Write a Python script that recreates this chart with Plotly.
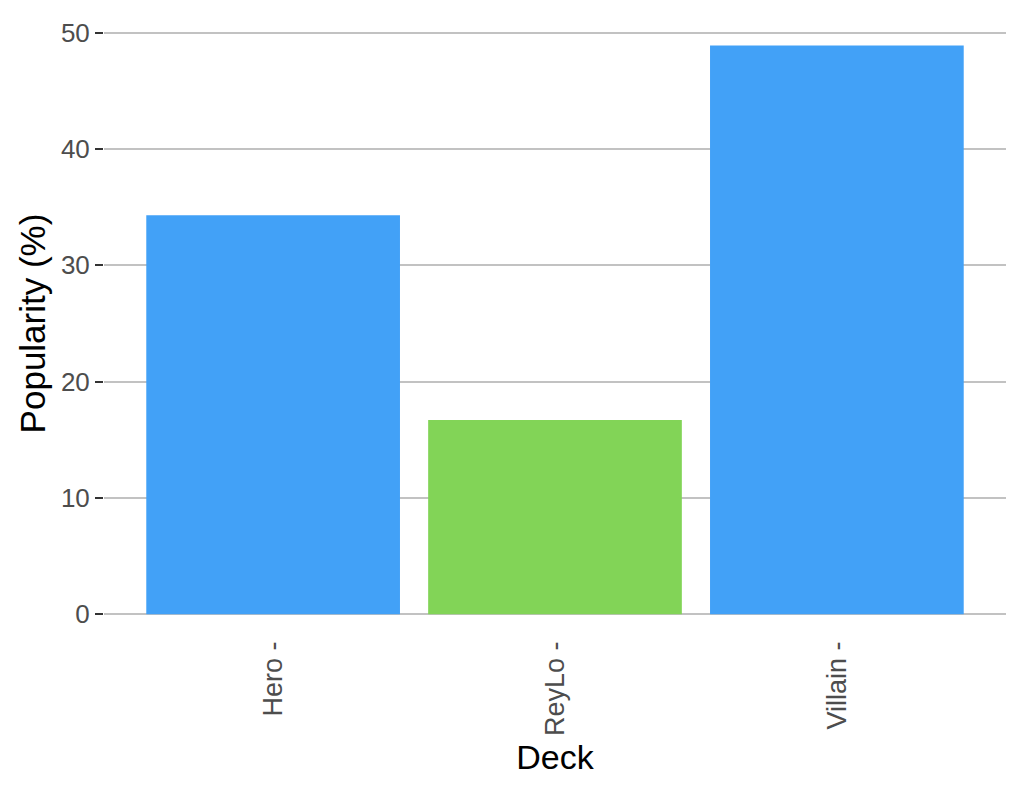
import plotly.graph_objects as go

decks = ["Hero", "ReyLo", "Villain"]
popularity = [34.3, 16.7, 48.9]
bar_colors = ["#42A1F7", "#82D457", "#42A1F7"]
tick_labels = ["Hero -", "ReyLo -", "Villain -"]
y_ticks = [0, 10, 20, 30, 40, 50]

# small padding so that gridlines at 0 and 50 are still drawn
pad = 0.15

fig = go.Figure(
    go.Bar(
        x=decks,
        y=popularity,
        marker=dict(color=bar_colors, line=dict(width=0)),
        width=0.9,
    )
)

fig.update_layout(
    width=1024,
    height=796,
    margin=dict(l=96, r=26, t=23.3, b=188.3, autoexpand=False),
    paper_bgcolor="white",
    plot_bgcolor="white",
    font=dict(family="Liberation Sans, Arial, sans-serif", color="#4d4d4d"),
    showlegend=False,
    bargap=0.1,
)

fig.update_xaxes(
    range=[-0.6, 2.6],
    tickvals=decks,
    ticktext=tick_labels,
    tickangle=-90,
    ticks="",
    showgrid=False,
    showline=False,
    zeroline=False,
    tickfont=dict(size=27, color="#4d4d4d"),
    ticklabelstandoff=19,
    title=dict(text="Deck", font=dict(size=34, color="black"), standoff=10),
    automargin=False,
)

fig.update_yaxes(
    range=[0 - pad, 50 + pad],
    tickvals=y_ticks,
    ticks="outside",
    ticklen=8,
    tickwidth=2,
    tickcolor="#333333",
    showgrid=True,
    gridcolor="#c2c2c2",
    gridwidth=2,
    zeroline=False,
    showline=False,
    tickfont=dict(size=26, color="#4d4d4d"),
    ticklabelstandoff=0,
    title=dict(text="Popularity (%)", font=dict(size=35, color="black"), standoff=4),
    automargin=False,
)

fig.write_html("out.html")
